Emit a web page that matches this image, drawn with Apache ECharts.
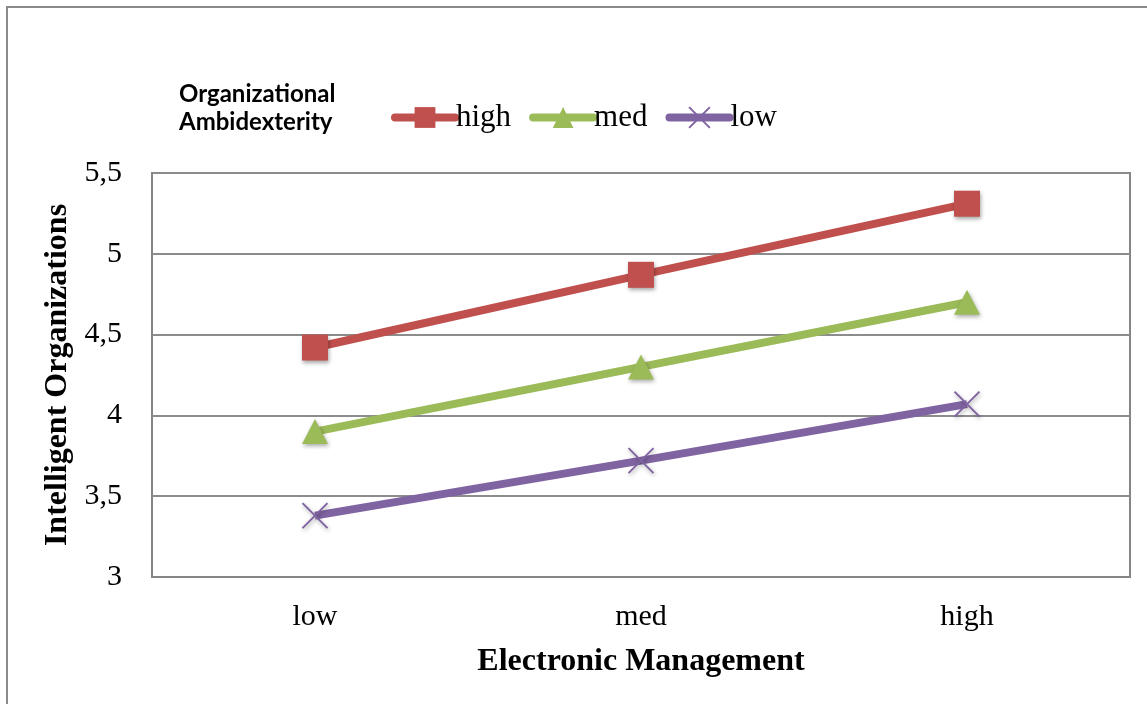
<!DOCTYPE html>
<html>
<head>
<meta charset="utf-8">
<script src="https://cdn.jsdelivr.net/npm/echarts@6/dist/echarts.min.js"></script>
<style>html,body{margin:0;padding:0;background:#fff}#c{width:1147px;height:704px}</style>
</head>
<body>
<div id="c"></div>
<script>
var categories = ['low', 'med', 'high'];
var highValues = [4.42, 4.87, 5.31];
var medValues = [3.90, 4.30, 4.70];
var lowValues = [3.38, 3.72, 4.07];
var seriesNames = ['high', 'med', 'low'];
var legendTitle = 'Organizational\nAmbidexterity';
var xTitle = 'Electronic Management';
var yTitle = 'Intelligent Organizations';

var serif = '"Liberation Serif", "Times New Roman", serif';
var chart = echarts.init(document.getElementById('c'));
var shadow = {shadowBlur: 4, shadowColor: 'rgba(0,0,0,0.35)', shadowOffsetY: 2, shadowOffsetX: 1};
var crossPath = 'path://M0,0L10,10M10,0L0,10';
chart.setOption({
  animation: false,
  backgroundColor: '#fff',
  graphic: [
    {type: 'rect', shape: {x: 7, y: 7, width: 1160, height: 720}, style: {fill: 'none', stroke: '#8a8a8a', lineWidth: 2}, silent: true},
    {type: 'text', left: 179, top: 80, style: {text: legendTitle, font: 'bold 24px Lato, "Open Sans", sans-serif', fill: '#000', lineHeight: 28}}
  ],
  legend: {
    left: 386, top: 97,
    itemWidth: 60, itemHeight: 26, itemGap: 18,
    lineStyle: {width: 8, cap: 'round'},
    textStyle: {fontFamily: serif, fontSize: 31, color: '#000', padding: [0, 0, 0, -4]},
    data: seriesNames
  },
  grid: {left: 152, right: 17, top: 173, bottom: 127, show: true, borderColor: '#868686', borderWidth: 2},
  xAxis: {
    type: 'category', data: categories, boundaryGap: true,
    axisLine: {show: true, lineStyle: {color: '#868686', width: 2}},
    axisTick: {show: false},
    axisLabel: {fontFamily: serif, fontSize: 30, color: '#000', margin: 25},
    name: xTitle, nameLocation: 'middle', nameGap: 69,
    nameTextStyle: {fontFamily: serif, fontSize: 32, fontWeight: 'bold', color: '#000'}
  },
  yAxis: {
    type: 'value', min: 3, max: 5.5, interval: 0.5,
    axisLine: {show: true, lineStyle: {color: '#868686', width: 2}},
    axisTick: {show: false},
    splitLine: {lineStyle: {color: '#8c8c8c', width: 2}},
    axisLabel: {fontFamily: serif, fontSize: 30, color: '#000', margin: 30,
      formatter: function (v) { return String(v).replace('.', ','); }},
    name: yTitle, nameLocation: 'middle', nameGap: 76,
    nameTextStyle: {fontFamily: serif, fontSize: 32, fontWeight: 'bold', color: '#000'}
  },
  series: [
    {name: 'high', type: 'line', data: highValues, symbol: 'rect', symbolSize: 26,
      lineStyle: {color: '#C0504D', width: 8}, itemStyle: Object.assign({color: '#C0504D'}, shadow)},
    {name: 'med', type: 'line', data: medValues, symbol: 'triangle', symbolSize: [26, 25],
      lineStyle: {color: '#9BBB59', width: 8}, itemStyle: Object.assign({color: '#9BBB59'}, shadow)},
    {name: 'low', type: 'line', data: lowValues, symbol: crossPath, symbolSize: 25,
      lineStyle: {color: '#8064A2', width: 8}, itemStyle: Object.assign({color: '#8064A2', borderColor: '#8064A2', borderWidth: 2}, shadow)}
  ]
});
</script>
</body>
</html>
